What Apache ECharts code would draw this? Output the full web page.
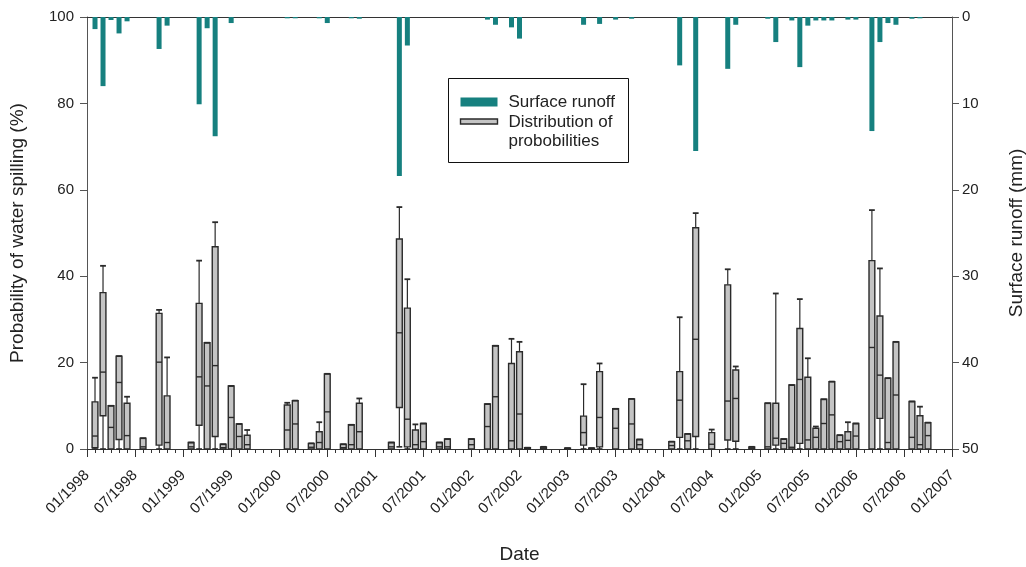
<!DOCTYPE html>
<html>
<head>
<meta charset="utf-8">
<script src="https://cdn.jsdelivr.net/npm/echarts/dist/echarts.min.js"></script>
<style>
  html, body { margin: 0; padding: 0; background: #ffffff; }
  #chart { width: 1026px; height: 567px; }
</style>
</head>
<body>
<div id="chart"></div>
<script>
// Month index 0 = 01/1998, 108 = 01/2007
const tickMonths = [0, 6, 12, 18, 24, 30, 36, 42, 48, 54, 60, 66, 72, 78, 84, 90, 96, 102, 108];

// Monthly surface runoff (mm)
const runoffMonth = [1, 2, 3, 4, 5, 9, 10, 14, 15, 16, 18, 25, 26, 29, 30, 33, 34, 39, 40, 50, 51, 53, 54,
  62, 64, 66, 68, 74, 76, 80, 81, 85, 86, 88, 89, 90, 91, 92, 93, 95, 96, 98, 99, 100, 101, 103, 104];
const runoffMm = [1.4, 8.0, 0.35, 1.9, 0.5, 3.7, 1.0, 10.1, 1.3, 13.8, 0.7, 0.15, 0.15, 0.15, 0.7, 0.15, 0.2, 18.4, 3.3, 0.3, 0.9, 1.2, 2.5,
  0.9, 0.8, 0.3, 0.2, 5.6, 15.5, 6.0, 0.9, 0.2, 2.9, 0.4, 5.8, 1.0, 0.4, 0.4, 0.4, 0.3, 0.3, 13.2, 2.9, 0.7, 0.9, 0.2, 0.15];

// Distribution of the probability of water spilling (%) per month
const boxMonth  = [1, 2, 3, 4, 5, 7, 9, 10, 13, 14, 15, 16, 17, 18, 19, 20, 25, 26, 28, 29, 30, 32, 33, 34, 38, 39, 40, 41, 42, 44, 45, 48,
  50, 51, 53, 54, 55, 57, 60, 62, 63, 64, 66, 68, 69, 73, 74, 75, 76, 78, 80, 81, 83, 85, 86, 87, 88, 89, 90, 91, 92, 93, 94, 95, 96,
  98, 99, 100, 101, 103, 104, 105];
const boxLow    = [0, 0, 0, 0, 0, 0, 0, 0, 0, 0, 0, 0, 0, 0, 0, 0, 0, 0, 0, 0, 0, 0, 0, 0, 0, 0.5, 0, 0, 0, 0, 0, 0,
  0, 0, 0, 0, 0, 0, 0, 0, 0, 0, 0, 0, 0, 0, 0, 0, 0, 0, 0, 0, 0, 0, 0, 0, 0, 0, 0, 0, 0, 0, 0, 0, 0,
  0, 0, 0, 0, 0, 0, 0];
const boxQ1     = [0.3, 7.7, 0, 2.2, 0, 0, 0.9, 0, 0, 5.5, 0, 2.9, 0, 0, 0, 0, 0, 0, 0, 0, 0, 0, 0, 0, 0, 9.6, 0.5, 0, 0, 0, 0, 0,
  0, 0, 0, 0, 0, 0, 0, 0.9, 0, 0.5, 0, 0, 0, 0, 2.7, 0, 2.9, 0, 2.1, 1.8, 0, 0, 0.9, 0, 0, 1.3, 0, 0, 0, 0, 0, 0, 0,
  0, 7.1, 0, 0, 0, 0, 0];
const boxMedian = [3.0, 17.8, 5.0, 15.4, 3.1, 0.5, 20.1, 1.5, 0.5, 16.7, 14.6, 19.3, 0.3, 7.3, 2.9, 1.0, 4.4, 5.8, 0.4, 1.5, 8.6, 0.3, 1.0, 4.0, 0.5, 26.9, 6.9, 1.0, 1.7, 0.5, 0.5, 1.0,
  5.2, 12.1, 1.9, 8.1, 0.1, 0.2, 0.1, 3.8, 0.1, 7.3, 4.8, 5.8, 1.0, 0.8, 11.3, 1.9, 25.4, 1.1, 11.1, 11.7, 0.2, 0.5, 2.5, 1.3, 0.4, 16.1, 2.1, 2.7, 5.9, 7.9, 1.7, 2.0, 3.0,
  23.5, 17.1, 1.5, 12.5, 2.7, 1.0, 3.1];
const boxQ3     = [10.9, 36.2, 10.0, 21.5, 10.6, 2.5, 31.4, 12.3, 1.5, 33.7, 24.6, 46.8, 1.1, 14.6, 5.8, 3.2, 10.2, 11.2, 1.3, 4.0, 17.4, 1.1, 5.6, 10.6, 1.5, 48.6, 32.6, 4.4, 5.9, 1.5, 2.3, 2.3,
  10.4, 23.9, 19.8, 22.5, 0.3, 0.5, 0.2, 7.6, 0.2, 17.9, 9.3, 11.6, 2.2, 1.7, 17.9, 3.5, 51.2, 3.8, 38.0, 18.3, 0.5, 10.6, 10.6, 2.3, 14.8, 27.9, 16.6, 4.8, 11.5, 15.6, 3.2, 4.0, 5.9,
  43.6, 30.8, 16.4, 24.8, 11.0, 7.7, 6.1];
const boxHigh   = [16.5, 42.4, 10.0, 21.5, 12.1, 2.5, 32.2, 21.2, 1.5, 43.6, 24.6, 52.5, 1.1, 14.6, 5.8, 4.4, 10.7, 11.2, 1.3, 6.2, 17.4, 1.1, 5.6, 11.7, 1.5, 56.0, 39.3, 5.7, 5.9, 1.5, 2.3, 2.3,
  10.4, 23.9, 25.5, 24.8, 0.3, 0.5, 0.2, 15.0, 0.2, 19.8, 9.3, 11.6, 2.2, 1.7, 30.5, 3.5, 54.6, 4.5, 41.6, 19.1, 0.5, 10.6, 36.0, 2.3, 14.8, 34.7, 21.0, 5.2, 11.5, 15.6, 3.2, 6.2, 5.9,
  55.3, 41.8, 16.4, 24.8, 11.0, 9.8, 6.1];

const FONT = '"Liberation Sans", Arial, sans-serif';
const INK = '#2a2a2a';
const TEAL = '#16807f';
const BOX_FILL = '#c4c4c4';

function monthLabel(m) {
  const mm = (m % 12) + 1;
  const yy = 1998 + Math.floor(m / 12);
  return (mm < 10 ? '0' + mm : '' + mm) + '/' + yy;
}

const boxData = boxMonth.map((m, i) => [m, boxLow[i], boxQ1[i], boxMedian[i], boxQ3[i], boxHigh[i]]);
const runoffData = runoffMonth.map((m, i) => [m, runoffMm[i]]);

function renderBox(params, api) {
  const m = api.value(0);
  const pLow = api.coord([m, api.value(1)]);
  const pQ1 = api.coord([m, api.value(2)]);
  const pMed = api.coord([m, api.value(3)]);
  const pQ3 = api.coord([m, api.value(4)]);
  const pHigh = api.coord([m, api.value(5)]);
  const cx = pMed[0];
  const half = 2.9;
  const lineStyle = { stroke: INK, lineWidth: 1.2 };
  const children = [];
  if (pHigh[1] < pQ3[1] - 0.5) {
    children.push({ type: 'line', shape: { x1: cx, y1: pQ3[1], x2: cx, y2: pHigh[1] }, style: lineStyle });
  }
  if (pLow[1] > pQ1[1] + 0.5) {
    children.push({ type: 'line', shape: { x1: cx, y1: pQ1[1], x2: cx, y2: pLow[1] }, style: lineStyle });
    children.push({ type: 'line', shape: { x1: cx - half, y1: pLow[1], x2: cx + half, y2: pLow[1] }, style: { stroke: INK, lineWidth: 1.6 } });
  }
  children.push({
    type: 'rect',
    shape: { x: cx - half, y: pQ3[1], width: half * 2, height: Math.max(pQ1[1] - pQ3[1], 1) },
    style: { fill: BOX_FILL, stroke: INK, lineWidth: 1.4 }
  });
  children.push({ type: 'line', shape: { x1: cx - half, y1: pMed[1], x2: cx + half, y2: pMed[1] }, style: { stroke: INK, lineWidth: 1.4 } });
  children.push({ type: 'line', shape: { x1: cx - half, y1: pHigh[1], x2: cx + half, y2: pHigh[1] }, style: { stroke: INK, lineWidth: 1.8 } });
  return { type: 'group', children: children };
}

const chart = echarts.init(document.getElementById('chart'), null, { renderer: 'canvas' });

chart.setOption({
  animation: false,
  backgroundColor: '#ffffff',
  textStyle: { fontFamily: FONT },
  grid: { left: 87, right: 74, top: 17, bottom: 118, containLabel: false, outerBoundsMode: 'none' },
  xAxis: [
    {
      type: 'value', min: 0, max: 108, interval: 6, position: 'bottom',
      axisLine: { show: true, onZero: false, lineStyle: { color: '#333', width: 1 } },
      axisTick: { show: true, length: 8, lineStyle: { color: '#333', width: 1 } },
      minorTick: { show: true, splitNumber: 6, length: 4, lineStyle: { color: '#333', width: 1 } },
      splitLine: { show: false },
      axisLabel: {
        rotate: 45, margin: 24, fontSize: 15, color: '#222', fontFamily: FONT,
        formatter: function (v) { return tickMonths.indexOf(v) >= 0 ? monthLabel(v) : ''; }
      },
      name: 'Date', nameLocation: 'middle', nameGap: 96,
      nameTextStyle: { fontSize: 19, color: '#222', fontFamily: FONT }
    },
    {
      type: 'value', min: 0, max: 108, position: 'top',
      axisLine: { show: true, onZero: false, lineStyle: { color: '#333', width: 1 } },
      axisTick: { show: false }, axisLabel: { show: false }, splitLine: { show: false }
    }
  ],
  yAxis: [
    {
      type: 'value', min: 0, max: 100, interval: 20, position: 'left',
      axisLine: { show: true, onZero: false, lineStyle: { color: '#555', width: 1 } },
      axisTick: { show: true, length: 7, lineStyle: { color: '#555' } },
      splitLine: { show: false },
      axisLabel: { fontSize: 15, color: '#222', margin: 13, fontFamily: FONT },
      name: 'Probability of water spilling (%)', nameLocation: 'middle', nameGap: 60, nameRotate: 90,
      nameTextStyle: { fontSize: 19, color: '#222', fontFamily: FONT }
    },
    {
      type: 'value', min: 0, max: 50, interval: 10, position: 'right', inverse: true,
      axisLine: { show: true, onZero: false, lineStyle: { color: '#555', width: 1 } },
      axisTick: { show: true, length: 7, lineStyle: { color: '#555' } },
      splitLine: { show: false },
      axisLabel: { fontSize: 15, color: '#222', margin: 10, fontFamily: FONT },
      name: 'Surface runoff (mm)', nameLocation: 'middle', nameGap: 55, nameRotate: 90,
      nameTextStyle: { fontSize: 19, color: '#222', fontFamily: FONT }
    }
  ],
  series: [
    {
      name: 'Surface runoff', type: 'bar', xAxisIndex: 0, yAxisIndex: 1,
      barWidth: 5, data: runoffData,
      itemStyle: { color: TEAL }
    },
    {
      name: 'Distribution of probobilities', type: 'custom', xAxisIndex: 0, yAxisIndex: 0,
      renderItem: renderBox, data: boxData,
      encode: { x: 0, y: [1, 2, 3, 4, 5] }, clip: false, z: 3
    }
  ],
  graphic: [
    {
      type: 'group', left: 448, top: 78,
      children: [
        { type: 'rect', shape: { x: 0, y: 0, width: 180, height: 84 }, style: { fill: '#fff', stroke: '#111', lineWidth: 1 } },
        { type: 'rect', shape: { x: 12, y: 19, width: 37, height: 9 }, style: { fill: TEAL } },
        { type: 'text', x: 60, y: 23.5, style: { text: 'Surface runoff', font: '17px ' + FONT, fill: '#222', verticalAlign: 'middle' } },
        { type: 'rect', shape: { x: 12, y: 40.5, width: 37, height: 5 }, style: { fill: BOX_FILL, stroke: INK, lineWidth: 1.4 } },
        { type: 'text', x: 60, y: 43.5, style: { text: 'Distribution of', font: '17px ' + FONT, fill: '#222', verticalAlign: 'middle' } },
        { type: 'text', x: 60, y: 63, style: { text: 'probobilities', font: '17px ' + FONT, fill: '#222', verticalAlign: 'middle' } }
      ]
    }
  ]
});
</script>
</body>
</html>
